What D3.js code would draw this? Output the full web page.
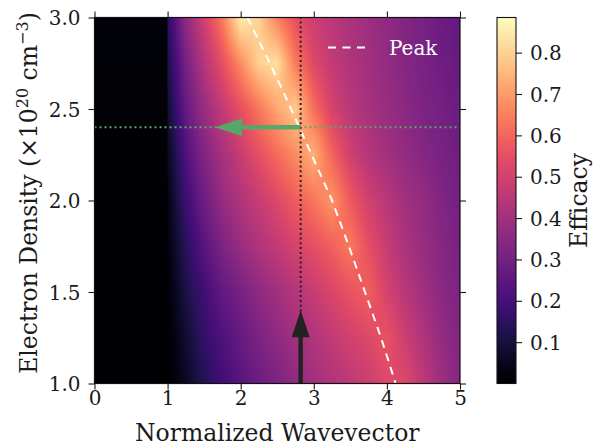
<!DOCTYPE html>
<html>
<head>
<meta charset="utf-8">
<script src="https://cdn.jsdelivr.net/npm/d3@7/dist/d3.min.js"></script>
<style>
  body { margin: 0; background: #fff; }
  text { font-family: "DejaVu Serif", serif; fill: #1a1a1a; }
</style>
</head>
<body>
<svg id="chart" width="603" height="446"></svg>
<script>
// sample grid (x = normalized wavevector, y = electron density)
var gridX = [1.0, 1.25, 1.5, 1.75, 2.0, 2.25, 2.5, 2.75, 3.0, 3.25, 3.5, 3.75, 4.0, 4.25, 4.5, 4.75, 5.0];
var gridY = [1.0, 1.25, 1.5, 1.75, 2.0, 2.25, 2.5, 2.75, 3.0];
var efficacy = [
  [0.00, 0.06, 0.13, 0.19, 0.24, 0.28, 0.32, 0.36, 0.40, 0.43, 0.46, 0.49, 0.53, 0.53, 0.46, 0.39, 0.34],
  [0.00, 0.08, 0.16, 0.22, 0.27, 0.32, 0.36, 0.40, 0.43, 0.47, 0.50, 0.53, 0.56, 0.49, 0.43, 0.37, 0.33],
  [0.01, 0.11, 0.19, 0.26, 0.31, 0.36, 0.40, 0.44, 0.48, 0.52, 0.56, 0.59, 0.51, 0.45, 0.40, 0.35, 0.32],
  [0.02, 0.14, 0.24, 0.32, 0.38, 0.43, 0.47, 0.51, 0.55, 0.59, 0.64, 0.55, 0.48, 0.42, 0.38, 0.34, 0.31],
  [0.03, 0.18, 0.29, 0.37, 0.43, 0.48, 0.53, 0.58, 0.63, 0.69, 0.58, 0.50, 0.45, 0.40, 0.37, 0.33, 0.30],
  [0.05, 0.22, 0.33, 0.41, 0.48, 0.55, 0.61, 0.67, 0.74, 0.60, 0.50, 0.44, 0.40, 0.37, 0.34, 0.31, 0.29],
  [0.08, 0.27, 0.38, 0.47, 0.55, 0.63, 0.72, 0.79, 0.62, 0.51, 0.45, 0.41, 0.38, 0.35, 0.32, 0.30, 0.28],
  [0.11, 0.31, 0.44, 0.55, 0.67, 0.80, 0.83, 0.64, 0.53, 0.47, 0.43, 0.40, 0.37, 0.34, 0.31, 0.29, 0.27],
  [0.14, 0.36, 0.50, 0.64, 0.86, 0.80, 0.65, 0.55, 0.49, 0.45, 0.42, 0.39, 0.36, 0.33, 0.31, 0.28, 0.26]
];
// efficacy below x = 1 (per gridY row), nearly zero
var leftEfficacy = [0, 0, 0.001, 0.002, 0.003, 0.005, 0.008, 0.011, 0.015];

var peakY = [3.0, 2.75, 2.5, 2.25, 2.0, 1.75, 1.5, 1.25, 1.0];
var peakX = [2.09, 2.40, 2.69, 2.97, 3.25, 3.48, 3.70, 3.92, 4.12];

var markK = 2.82;       // vertical dotted line / black arrow
var markN = 2.4;        // horizontal dotted line / green arrow
var arrowUpTo = 1.40;
var arrowLeftTo = 1.65;

var xTicks = [0, 1, 2, 3, 4, 5];
var yTicks = [1.0, 1.5, 2.0, 2.5, 3.0];
var cbTicks = [0.1, 0.2, 0.3, 0.4, 0.5, 0.6, 0.7, 0.8];
var cbMax = 0.885;

var tickFont = "20px", labelFont = "23.5px";

var svg = d3.select("#chart");
svg.append("rect").attr("width", 603).attr("height", 446).attr("fill", "#fff");

var x = d3.scaleLinear().domain([0, 5]).range([94.5, 460]);
var y = d3.scaleLinear().domain([1, 3]).range([383.5, 17.5]);
var color = d3.scaleSequential(d3.interpolateMagma).domain([0, cbMax]);

function locate(arr, v) {
    var i = Math.max(1, Math.min(arr.length - 1, d3.bisectRight(arr, v)));
    var t = (v - arr[i - 1]) / (arr[i] - arr[i - 1]);
    return [i - 1, Math.max(0, Math.min(1, t))];
}

function sample(kx, ny) {
    var r = locate(gridY, ny);
    if (kx < gridX[0]) {
        return leftEfficacy[r[0]] * (1 - r[1]) + leftEfficacy[r[0] + 1] * r[1];
    }
    var c = locate(gridX, kx);
    var a = efficacy[r[0]], b = efficacy[r[0] + 1];
    var lo = a[c[0]] * (1 - c[1]) + a[c[0] + 1] * c[1];
    var hi = b[c[0]] * (1 - c[1]) + b[c[0] + 1] * c[1];
    return lo * (1 - r[1]) + hi * r[1];
}

// heatmap image
var W = Math.round(x(5) - x(0)), H = Math.round(y(1) - y(3));
var canvas = document.createElement("canvas");
canvas.width = W; canvas.height = H;
var ctx = canvas.getContext("2d");
var img = ctx.createImageData(W, H);
for (var j = 0; j < H; j++) {
    var ny = y.invert(y(3) + j + 0.5);
    for (var i = 0; i < W; i++) {
        var kx = x.invert(x(0) + i + 0.5);
        var c = d3.rgb(color(sample(kx, ny)));
        var p = (j * W + i) * 4;
        img.data[p] = c.r; img.data[p + 1] = c.g; img.data[p + 2] = c.b; img.data[p + 3] = 255;
    }
}
ctx.putImageData(img, 0, 0);

var defs = svg.append("defs");
defs.append("clipPath").attr("id", "plotclip")
    .append("rect").attr("x", x(0)).attr("y", y(3)).attr("width", x(5) - x(0)).attr("height", y(1) - y(3));

var plot = svg.append("g").attr("clip-path", "url(#plotclip)");
plot.append("image")
    .attr("x", x(0)).attr("y", y(3))
    .attr("width", x(5) - x(0)).attr("height", y(1) - y(3))
    .attr("preserveAspectRatio", "none")
    .attr("href", canvas.toDataURL());

// peak line
plot.append("path")
    .datum(d3.zip(peakX, peakY))
    .attr("d", d3.line().x(function(d) { return x(d[0]); }).y(function(d) { return y(d[1]); }))
    .attr("fill", "none").attr("stroke", "#fff").attr("stroke-width", 2)
    .attr("stroke-dasharray", "8,6");

// dotted guides
plot.append("line")
    .attr("x1", x(0)).attr("x2", x(5)).attr("y1", y(markN)).attr("y2", y(markN))
    .attr("stroke", "#55a868").attr("stroke-width", 2).attr("stroke-dasharray", "2,3");
plot.append("line")
    .attr("x1", x(markK)).attr("x2", x(markK)).attr("y1", y(1)).attr("y2", y(3))
    .attr("stroke", "#222").attr("stroke-width", 2).attr("stroke-dasharray", "2,2.8");

function arrowPath(x0, y0, x1, y1) {
    var dx = x1 - x0, dy = y1 - y0, len = Math.sqrt(dx * dx + dy * dy);
    var ux = dx / len, uy = dy / len, nx = -uy, ny = ux;
    var sw = 2.2, hw = 9, hl = 27;
    var bx = x1 - ux * hl, by = y1 - uy * hl;
    var pts = [
        [x0 + nx * sw, y0 + ny * sw], [bx + nx * sw, by + ny * sw], [bx + nx * hw, by + ny * hw],
        [x1, y1],
        [bx - nx * hw, by - ny * hw], [bx - nx * sw, by - ny * sw], [x0 - nx * sw, y0 - ny * sw]
    ];
    return "M" + pts.join("L") + "Z";
}

plot.append("path")
    .attr("d", arrowPath(x(markK), y(1), x(markK), y(arrowUpTo)))
    .attr("fill", "#222");
plot.append("path")
    .attr("d", arrowPath(x(markK), y(markN), x(arrowLeftTo), y(markN)))
    .attr("fill", "#55a868");

// legend
svg.append("line")
    .attr("x1", 328).attr("x2", 365).attr("y1", 47.5).attr("y2", 47.5)
    .attr("stroke", "#fff").attr("stroke-width", 2).attr("stroke-dasharray", "8,6.5");
svg.append("text").attr("x", 389).attr("y", 54.5)
    .style("fill", "#fff").style("font-size", tickFont).text("Peak");

// axes
function styleAxis(g) {
    g.select(".domain").remove();
    g.selectAll(".tick line").attr("stroke", "#1a1a1a").attr("stroke-width", 1.1);
    g.selectAll("text").style("font-size", tickFont).attr("fill", null);
}

svg.append("g").attr("transform", "translate(0," + y(1) + ")")
    .call(d3.axisBottom(x).tickValues(xTicks).tickSize(6).tickFormat(d3.format("d")))
    .call(styleAxis)
    .call(function(g) { g.selectAll("text").attr("y", 21.5).attr("dy", 0); });
svg.append("g").attr("transform", "translate(0," + y(3) + ")")
    .call(d3.axisTop(x).tickValues(xTicks).tickSize(6).tickFormat(""))
    .call(styleAxis);
svg.append("g").attr("transform", "translate(" + x(0) + ",0)")
    .call(d3.axisLeft(y).tickValues(yTicks).tickSize(6).tickFormat(d3.format(".1f")))
    .call(styleAxis)
    .call(function(g) { g.selectAll("text").attr("x", -14).attr("dy", "0.36em"); });
svg.append("g").attr("transform", "translate(" + x(5) + ",0)")
    .call(d3.axisRight(y).tickValues(yTicks).tickSize(6).tickFormat(""))
    .call(styleAxis);

svg.append("rect")
    .attr("x", x(0)).attr("y", y(3)).attr("width", x(5) - x(0)).attr("height", y(1) - y(3))
    .attr("fill", "none").attr("stroke", "#111").attr("stroke-width", 1.2);

// axis labels
svg.append("text").attr("x", (x(0) + x(5)) / 2).attr("y", 441)
    .attr("text-anchor", "middle").style("font-size", labelFont).text("Normalized Wavevector");

var yl = svg.append("text")
    .attr("transform", "translate(37,193) rotate(-90)")
    .attr("text-anchor", "middle").style("font-size", labelFont);
yl.append("tspan").text("Electron Density (\u00d710");
yl.append("tspan").attr("dy", -9).style("font-size", "16px").text("20");
yl.append("tspan").attr("dy", 9).text(" cm");
yl.append("tspan").attr("dy", -9).style("font-size", "16px").text("\u22123");
yl.append("tspan").attr("dy", 9).text(")");

// colorbar
var cb = d3.scaleLinear().domain([0, cbMax]).range([383.5, 17.5]);
var grad = defs.append("linearGradient").attr("id", "cbgrad")
    .attr("x1", 0).attr("y1", 1).attr("x2", 0).attr("y2", 0);
d3.range(0, 1.0001, 0.02).forEach(function(t) {
    grad.append("stop").attr("offset", t).attr("stop-color", color(t * cbMax));
});
svg.append("rect")
    .attr("x", 497).attr("y", cb(cbMax)).attr("width", 19).attr("height", cb(0) - cb(cbMax))
    .attr("fill", "url(#cbgrad)").attr("stroke", "#111").attr("stroke-width", 1.1);
svg.append("g").attr("transform", "translate(516,0)")
    .call(d3.axisRight(cb).tickValues(cbTicks).tickSize(6).tickPadding(8).tickFormat(d3.format(".1f")))
    .call(styleAxis)
    .call(function(g) { g.selectAll("text").attr("dy", "0.36em"); });
svg.append("text")
    .attr("transform", "translate(587," + (cb(0) + cb(cbMax)) / 2 + ") rotate(-90)")
    .attr("text-anchor", "middle").style("font-size", labelFont).text("Efficacy");
</script>
</body>
</html>
